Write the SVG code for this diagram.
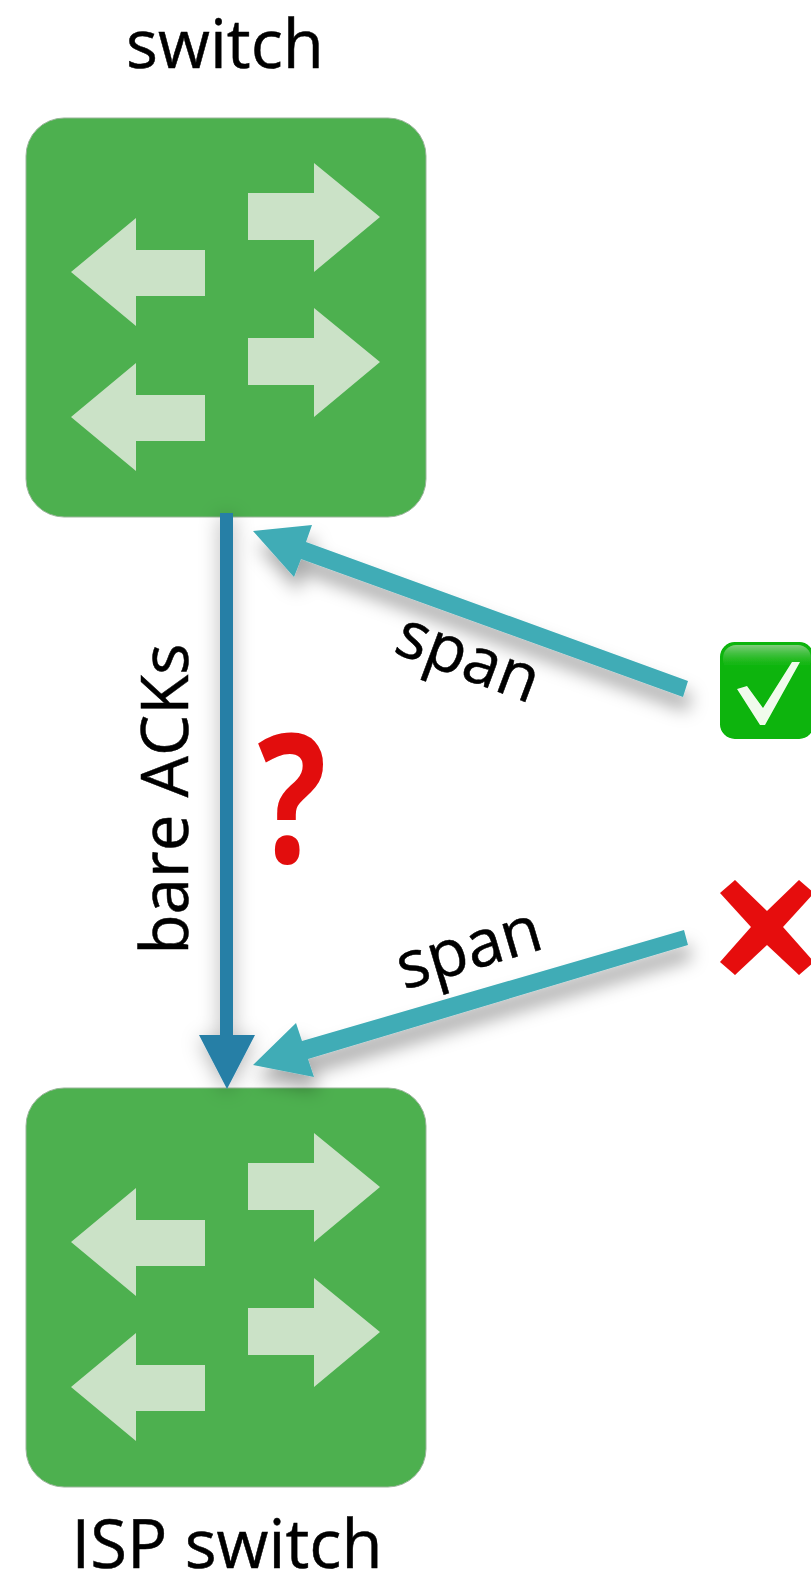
<svg xmlns="http://www.w3.org/2000/svg" width="811" height="1579" viewBox="0 0 811 1579">
<style>
.lbl{font-family:"Open Sans","Noto Sans",sans-serif;fill:#000;stroke:#000;stroke-width:0.5px}
.big{font-size:67px}
.mid{font-size:65.500px}
.conn{fill:#40acb6;filter:url(#sh)}
</style>
<defs>
<filter id="sh" x="-30%" y="-30%" width="170%" height="170%"><feDropShadow dx="4" dy="14" stdDeviation="9" flood-color="#000" flood-opacity="0.34"/></filter>
<filter id="sh2" x="-150%" y="-5%" width="400%" height="110%"><feDropShadow dx="0" dy="4" stdDeviation="10" flood-color="#000" flood-opacity="0.3"/></filter>
<filter id="soft" x="-5%" y="-5%" width="110%" height="110%"><feGaussianBlur stdDeviation="0.7"/></filter>
<linearGradient id="gl" x1="0" y1="0" x2="0" y2="1"><stop offset="0" stop-color="#8fd08a" stop-opacity="0.9"/><stop offset="1" stop-color="#0cb50c" stop-opacity="0"/></linearGradient>
<g id="sw">
<rect x="26" y="118" width="400" height="399" rx="38" fill="#4db04f" stroke="#9ab59a" stroke-width="1"/>
<g fill="#cbe2c7" filter="url(#soft)">
<path d="M248 193H314V163L380 217L314 272V240H248Z"/>
<path d="M248 338H314V308L380 362L314 417V385H248Z"/>
<path d="M205 250H136V218L71 272L136 326V296H205Z"/>
<path d="M205 395H136V363L71 417L136 471V441H205Z"/>
</g>
</g>
</defs>
<g id="node-switch">
<use href="#sw"/>
<text class="lbl big" x="225" y="68" text-anchor="middle">switch</text>
</g>
<g id="node-isp-switch">
<use href="#sw" y="970"/>
<text class="lbl big" x="227" y="1568" text-anchor="middle">ISP switch</text>
</g>
<g id="connectors">
<path d="M220 513H233V1035H255L227 1089L199 1035H220Z" fill="#267fa6" filter="url(#sh2)"/>
<path class="conn" d="M688 681L683 697L301 559L294 577L253 531L312 525L306 542Z"/>
<path class="conn" d="M684 930L688 945L308 1059L314 1077L253 1065L296 1023L302 1041Z"/>
</g>
<g id="labels">
<text class="lbl mid" transform="translate(461 678) rotate(20.500)" text-anchor="middle">span</text>
<text class="lbl mid" transform="translate(475 969) rotate(-16.500)" text-anchor="middle">span</text>
<text class="lbl mid" transform="translate(188 799) rotate(-90)" text-anchor="middle">bare ACKs</text>
<text transform="translate(292 863) scale(0.8 1)" text-anchor="middle" font-family="Open Sans,sans-serif" font-weight="700" font-size="180" fill="#e20a0a" filter="url(#soft)">?</text>
</g>
<g id="node-check" filter="url(#soft)">
<rect x="720" y="642" width="94" height="97" rx="15" fill="#07b407"/>
<rect x="723" y="645" width="88" height="28" rx="13" fill="url(#gl)"/>
<path d="M737 689L747 686L763 708L792 662L800 662L765 725L760 725Z" fill="#f0fbec"/>
</g>
<g id="node-cross" filter="url(#soft)">
<path d="M720 893L735 880L767 911L799 880L814 893L783 927L814 962L799 975L767 945L735 975L720 962L751 927Z" fill="#e60b0b"/>
</g>
</svg>
